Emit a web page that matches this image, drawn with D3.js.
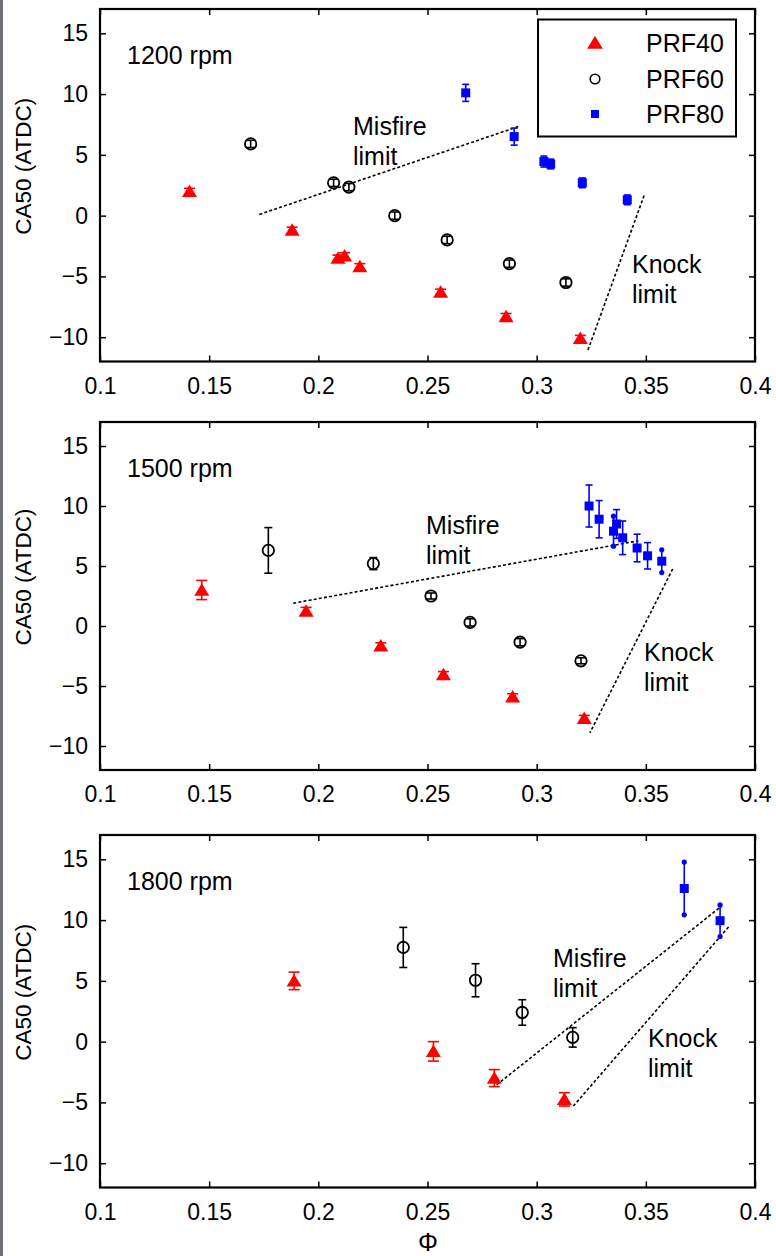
<!DOCTYPE html>
<html>
<head>
<meta charset="utf-8">
<script src="https://cdn.jsdelivr.net/npm/d3@7"></script>
<style>
  body { margin: 0; background: #fff; }
  svg { display: block; }
  text { font-family: "Liberation Sans", Arial, sans-serif; fill: #000; }
</style>
</head>
<body>
<svg id="chart" width="776" height="1256"></svg>
<script>
// axis ticks
const phiTicks = [0.1, 0.15, 0.2, 0.25, 0.3, 0.35, 0.4];
const phiTickLabels = ["0.1", "0.15", "0.2", "0.25", "0.3", "0.35", "0.4"];
const caTicks = [-10, -5, 0, 5, 10, 15];
const speedLabels = ["1200 rpm", "1500 rpm", "1800 rpm"];
const seriesNames = ["PRF40", "PRF60", "PRF80"];

// [phi, CA50 (ATDC), half error bar]
const prf40_1200 = [[0.141, 2.0, 0.25], [0.188, -1.2, 0.25], [0.209, -3.5, 0.25], [0.212, -3.3, 0.25],
                    [0.219, -4.2, 0.25], [0.256, -6.3, 0.25], [0.286, -8.3, 0.25], [0.320, -10.1, 0.25]];
const prf60_1200 = [[0.169, 5.9, 0.3], [0.207, 2.7, 0.3], [0.214, 2.35, 0.3], [0.235, 0.0, 0.3],
                    [0.259, -2.0, 0.3], [0.2875, -3.95, 0.3], [0.3134, -5.5, 0.3]];
const prf80_1200 = [[0.2675, 10.1, 0.7], [0.2897, 6.5, 0.7], [0.3033, 4.45, 0.45], [0.3064, 4.25, 0.4],
                    [0.3209, 2.7, 0.4], [0.3415, 1.3, 0.4]];

const prf40_1500 = [[0.1466, 3.0, 0.8], [0.1944, 1.25, 0.3], [0.2286, -1.65, 0.25], [0.2573, -4.05, 0.25],
                    [0.289, -5.9, 0.25], [0.3218, -7.7, 0.25]];
const prf60_1500 = [[0.1771, 6.3, 1.9], [0.2252, 5.2, 0.5], [0.2516, 2.5, 0.25], [0.2695, 0.3, 0.3],
                    [0.2924, -1.35, 0.3], [0.3203, -2.9, 0.25]];
const prf80_1500 = [[0.324, 10.0, 1.75], [0.3286, 8.9, 1.55], [0.3352, 7.9, 1.25], [0.3366, 8.5, 1.2],
                    [0.3394, 7.35, 1.4], [0.346, 6.5, 1.15], [0.3508, 5.85, 1.1], [0.3573, 5.4, 0.95]];
const prf80_1500Ends = ["cap", "cap", "dot", "cap", "cap", "cap", "cap", "dot"];

const prf40_1800 = [[0.1889, 5.0, 0.72], [0.2527, -0.8, 0.8], [0.2806, -3.0, 0.7], [0.3127, -4.75, 0.55]];
const prf60_1800 = [[0.2389, 7.75, 1.65], [0.272, 5.05, 1.36], [0.2934, 2.4, 1.05], [0.3165, 0.35, 0.8]];
const prf80_1800 = [[0.3676, 12.6, 2.17], [0.384, 9.95, 1.3]];
const prf80_1800Ends = ["dot", "dot"];

// limit lines, [phi, CA50] end points
const misfire_1200 = [[0.173, 0.1], [0.292, 7.35]];
const knock_1200 = [[0.3492, 1.65], [0.3233, -11.15]];
const misfire_1500 = [[0.1885, 1.9], [0.3466, 7.1]];
const knock_1500 = [[0.3623, 4.75], [0.3244, -8.9]];
const misfire_1800 = [[0.2817, -3.55], [0.3847, 11.15]];
const knock_1800 = [[0.3168, -5.3], [0.3882, 9.5]];

const panels = [
  {top: 9, bottom: 361.5, speed: speedLabels[0], s40: prf40_1200, s60: prf60_1200, s80: prf80_1200, ends80: null,
   misfire: misfire_1200, knock: knock_1200, mText: [353, 135], kText: [632, 273]},
  {top: 422, bottom: 770, speed: speedLabels[1], s40: prf40_1500, s60: prf60_1500, s80: prf80_1500, ends80: prf80_1500Ends,
   misfire: misfire_1500, knock: knock_1500, mText: [426, 534], kText: [644, 661]},
  {top: 835, bottom: 1187.5, speed: speedLabels[2], s40: prf40_1800, s60: prf60_1800, s80: prf80_1800, ends80: prf80_1800Ends,
   misfire: misfire_1800, knock: knock_1800, mText: [553, 967], kText: [648, 1047]}
];

const svg = d3.select("#chart");
const left = 100, right = 755;
const red = "#ff0000", blue = "#0000ff";

svg.append("rect").attr("x", 0).attr("y", 0).attr("width", 3).attr("height", 1256).attr("fill", "#6e7178");

const x = d3.scaleLinear().domain([0.1, 0.4]).range([left, right]);

function triangle(g, cx, cy, s){
  g.append("path")
    .attr("d", `M${cx},${cy - s * 0.55}L${cx + s * 0.6},${cy + s * 0.45}L${cx - s * 0.6},${cy + s * 0.45}Z`)
    .attr("fill", red);
}

function errBar(g, px, y0, y1, color, capW, ends){
  g.append("line").attr("x1", px).attr("x2", px).attr("y1", y0).attr("y2", y1)
    .attr("stroke", color).attr("stroke-width", 1.6);
  [y0, y1].forEach(yy => {
    if (ends == "dot"){
      g.append("circle").attr("cx", px).attr("cy", yy).attr("r", 2.6).attr("fill", color);
    } else {
      g.append("line").attr("x1", px - capW).attr("x2", px + capW).attr("y1", yy).attr("y2", yy)
        .attr("stroke", color).attr("stroke-width", 1.6);
    }
  });
}

panels.forEach((p, i) => {
  const y = d3.scaleLinear().domain([-12, 17]).range([p.bottom, p.top]);
  const g = svg.append("g");

  // ticks on all four sides, pointing in
  const ax = [
    [d3.axisBottom(x).tickValues(phiTicks).tickFormat((d, k) => phiTickLabels[k]).tickSizeInner(-6).tickSizeOuter(0).tickPadding(16), `translate(0,${p.bottom})`],
    [d3.axisTop(x).tickValues(phiTicks).tickFormat("").tickSizeInner(-6).tickSizeOuter(0), `translate(0,${p.top})`],
    [d3.axisLeft(y).tickValues(caTicks).tickSizeInner(-6).tickSizeOuter(0).tickPadding(12), `translate(${left},0)`],
    [d3.axisRight(y).tickValues(caTicks).tickFormat("").tickSizeInner(-6).tickSizeOuter(0), `translate(${right},0)`]
  ];
  ax.forEach(([a, tr]) => {
    const ag = g.append("g").attr("transform", tr).call(a);
    ag.select(".domain").remove();
    ag.selectAll(".tick line").attr("stroke", "#000").attr("stroke-width", 1.5);
    ag.selectAll("text").attr("font-size", 23).attr("font-family", "Liberation Sans, Arial, sans-serif").attr("fill", "#000");
  });

  g.append("rect").attr("x", left).attr("y", p.top).attr("width", right - left).attr("height", p.bottom - p.top)
    .attr("fill", "none").attr("stroke", "#000").attr("stroke-width", 2.2);

  // y label
  g.append("text")
    .attr("transform", `translate(23,${(p.top + p.bottom) / 2 - 19}) rotate(-90)`)
    .attr("text-anchor", "middle").attr("dominant-baseline", "central")
    .attr("font-size", 22.5).text("CA50 (ATDC)");

  g.append("text").attr("x", 127).attr("y", p.top + 55).attr("font-size", 25).text(p.speed);

  // limit lines
  const line = d3.line().x(d => x(d[0])).y(d => y(d[1]));
  [p.misfire, p.knock].forEach(l => {
    g.append("path").attr("d", line(l)).attr("fill", "none").attr("stroke", "#000")
      .attr("stroke-width", 1.6).attr("stroke-dasharray", "3,2.2");
  });
  g.append("text").attr("x", p.mText[0]).attr("y", p.mText[1]).attr("font-size", 25).text("Misfire");
  g.append("text").attr("x", p.mText[0]).attr("y", p.mText[1] + 30).attr("font-size", 25).text("limit");
  g.append("text").attr("x", p.kText[0]).attr("y", p.kText[1]).attr("font-size", 25).text("Knock");
  g.append("text").attr("x", p.kText[0]).attr("y", p.kText[1] + 30).attr("font-size", 25).text("limit");

  // PRF40
  p.s40.forEach(d => {
    errBar(g, x(d[0]), y(d[1] - d[2]), y(d[1] + d[2]), red, 5.5, "cap");
    triangle(g, x(d[0]), y(d[1]), 12.5);
  });
  // PRF60
  p.s60.forEach(d => {
    errBar(g, x(d[0]), y(d[1] - d[2]), y(d[1] + d[2]), "#000", 4, "cap");
    g.append("circle").attr("cx", x(d[0])).attr("cy", y(d[1])).attr("r", 5.7)
      .attr("fill", "none").attr("stroke", "#000").attr("stroke-width", 1.8);
  });
  // PRF80
  p.s80.forEach((d, k) => {
    const ends = p.ends80 ? p.ends80[k] : "cap";
    errBar(g, x(d[0]), y(d[1] - d[2]), y(d[1] + d[2]), blue, 3.5, ends);
    g.append("rect").attr("x", x(d[0]) - 4.5).attr("y", y(d[1]) - 4.5).attr("width", 9).attr("height", 9)
      .attr("fill", blue);
  });

  // legend in the first panel
  if (i == 0){
    const lg = g.append("g");
    lg.append("rect").attr("x", 538).attr("y", 19.5).attr("width", 198).attr("height", 117)
      .attr("fill", "#fff").attr("stroke", "#000").attr("stroke-width", 2);
    const rows = [43, 79, 114];
    triangle(lg, 595, rows[0], 13);
    lg.append("circle").attr("cx", 595).attr("cy", rows[1]).attr("r", 4.8)
      .attr("fill", "none").attr("stroke", "#000").attr("stroke-width", 1.6);
    lg.append("rect").attr("x", 591).attr("y", rows[2] - 4).attr("width", 8).attr("height", 8).attr("fill", blue);
    seriesNames.forEach((n, k) => {
      lg.append("text").attr("x", 646).attr("y", rows[k]).attr("dy", "0.36em")
        .attr("font-size", 25).text(n);
    });
  }
});

svg.append("text").attr("x", 428).attr("y", 1251).attr("text-anchor", "middle")
  .attr("font-family", "Liberation Serif, Times New Roman, serif").attr("font-size", 25).text("Φ");
</script>
</body>
</html>
